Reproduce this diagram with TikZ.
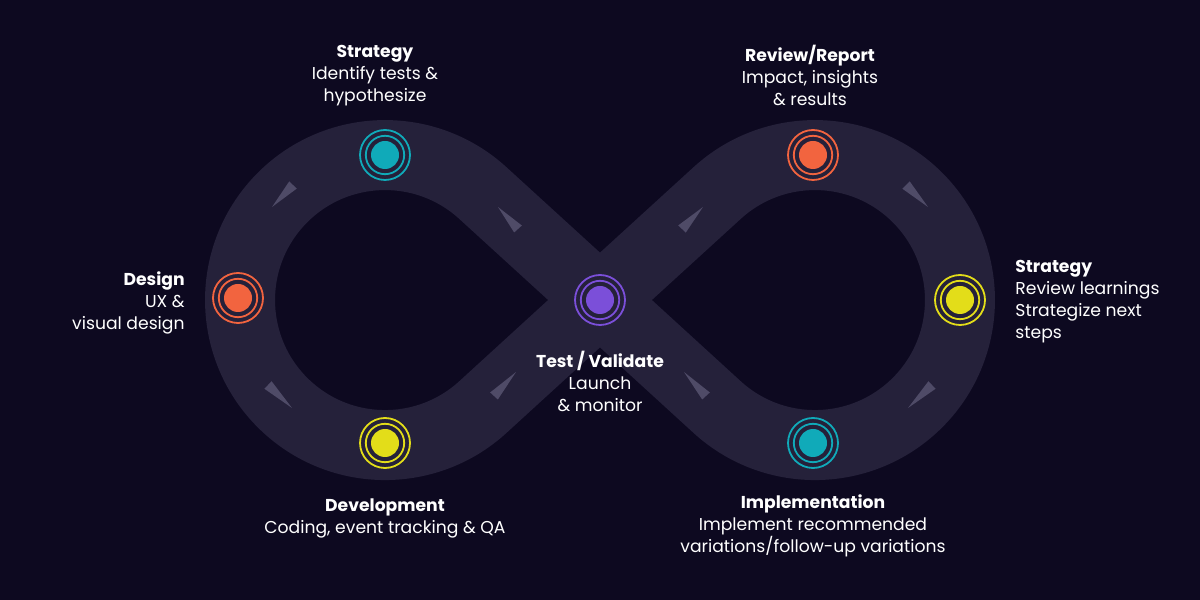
\documentclass[tikz,border=0pt]{standalone}
\usepackage{fontspec}
\setmainfont{Poppins}
\usetikzlibrary{calc}
\definecolor{bg}{HTML}{0D0920}
\definecolor{band}{HTML}{25213A}
\definecolor{wedgec}{HTML}{4F4B67}
\definecolor{cteal}{HTML}{10AAB9}
\definecolor{corange}{HTML}{F2643F}
\definecolor{cyellow}{HTML}{E3DD19}
\definecolor{cpurple}{HTML}{7B4FD9}
\begin{document}
\begin{tikzpicture}[x=0.5pt,y=0.5pt,
  stage/.style={draw=#1,line width=0.9pt,circle,minimum size=25pt,inner sep=0pt,
    path picture={\draw[#1,line width=0.9pt] (path picture bounding box.center) circle (9.6pt);
      \fill[#1] (path picture bounding box.center) circle (7pt);}},
  lbl/.style={text=white,font=\fontsize{8.6}{11}\selectfont,inner sep=0pt,anchor=north},
  wedge/.style={fill=wedgec}]
\fill[bg] (0,0) rectangle (1200,600);
\useasboundingbox (0,0) rectangle (1200,600);
% band
\draw[band,line width=35pt,line join=round]
  (600,300) -- (482.8,407) arc[start angle=47.6,end angle=312.4,radius=145]
  -- (600,300) -- (717.2,407) arc[start angle=132.4,end angle=-132.4,radius=145]
  -- (600,300) -- (482.8,407);
% wedges
\foreach \tx/\ty/\wx/\wy in {272/393/293/415, 498/393/518/371, 703/393/682/371, 928/393/906/415,
  292/192/268/215, 516/228/494/204, 684/228/706/204, 908/192/932/215}{
  \fill[wedge] (\tx,\ty) -- ($(\wx,\wy)!2.6pt!90:(\tx,\ty)$) -- ($(\wx,\wy)!2.6pt!-90:(\tx,\ty)$) -- cycle;
}
% stages
\node[stage=cteal] (s1) at (385,445) {};
\node[stage=corange] (s2) at (813,445) {};
\node[stage=corange] (s3) at (238,302) {};
\node[stage=cyellow] (s4) at (960,300) {};
\node[stage=cpurple] (s5) at (600,300) {};
\node[stage=cyellow] (s6) at (385,157) {};
\node[stage=cteal] (s7) at (813,157) {};
% labels
\node[lbl,align=center] (l1) at (375,555) {\textbf{Strategy}\\Identify tests \&\\hypothesize};
\node[lbl,align=center] (l2) at (810,555) {\textbf{Review/Report}\\Impact, insights\\\& results};
\node[lbl,align=right,anchor=north east] (l3) at (185,329) {\textbf{Design}\\UX \&\\visual design};
\node[lbl,align=left,anchor=north west] (l4) at (1015,340) {\textbf{Strategy}\\Review learnings\\Strategize next\\steps};
\node[lbl,align=center] (l5) at (600,249) {\textbf{Test / Validate}\\Launch\\\& monitor};
\node[lbl,align=center] (l6) at (385,102) {\textbf{Development}\\Coding, event tracking \& QA};
\node[lbl,align=center] (l7) at (813,106) {\textbf{Implementation}\\Implement recommended\\variations/follow-up variations};
\end{tikzpicture}
\end{document}
